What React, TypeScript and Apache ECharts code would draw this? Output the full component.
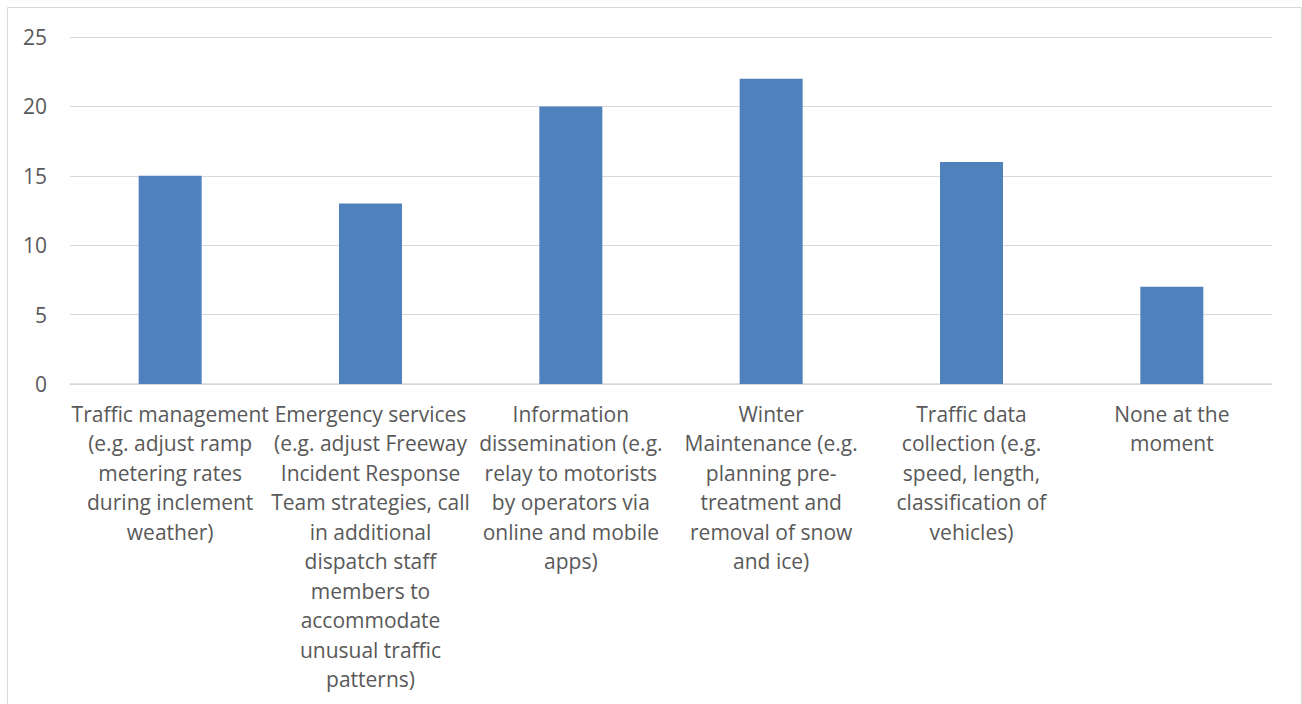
import React, { useEffect, useRef } from "react";
import * as echarts from "echarts";

const categories: string[] = [
  "Traffic management\n(e.g. adjust ramp\nmetering rates\nduring inclement\nweather)",
  "Emergency services\n(e.g. adjust Freeway\nIncident Response\nTeam strategies, call\nin additional\ndispatch staff\nmembers to\naccommodate\nunusual traffic\npatterns)",
  "Information\ndissemination (e.g.\nrelay to motorists\nby operators via\nonline and mobile\napps)",
  "Winter\nMaintenance (e.g.\nplanning pre-\ntreatment and\nremoval of snow\nand ice)",
  "Traffic data\ncollection (e.g.\nspeed, length,\nclassification of\nvehicles)",
  "None at the\nmoment",
];
const values: number[] = [15, 13, 20, 22, 16, 7];
const yTicks = { min: 0, max: 25, interval: 5 };

export default function App() {
  const ref = useRef<HTMLDivElement>(null);
  useEffect(() => {
    if (!ref.current) return;
    const chart = echarts.init(ref.current, null, { renderer: "svg" });
    const font = "'Open Sans', 'Noto Sans', sans-serif";
    chart.setOption({
      animation: false,
      backgroundColor: "#ffffff",
      graphic: [
        {
          type: "rect",
          shape: { x: 7.5, y: 7.5, width: 1294, height: 720 },
          style: { fill: "none", stroke: "#d9d9d9", lineWidth: 1 },
          silent: true,
        },
      ],
      grid: { left: 70, right: 30, top: 37, bottom: 320, containLabel: false },
      xAxis: {
        type: "category",
        data: categories,
        axisLine: { show: true, lineStyle: { color: "#d9d9d9", width: 1.5 } },
        axisTick: { show: false },
        axisLabel: {
          interval: 0,
          color: "#595959",
          fontFamily: font,
          fontSize: 21,
          lineHeight: 29.5,
          margin: 15,
          align: "center",
        },
      },
      yAxis: {
        type: "value",
        min: yTicks.min,
        max: yTicks.max,
        interval: yTicks.interval,
        axisLine: { show: false },
        axisTick: { show: false },
        splitLine: { lineStyle: { color: "#d9d9d9", width: 1 } },
        axisLabel: {
          color: "#595959",
          fontFamily: font,
          fontSize: 21,
          margin: 23,
        },
      },
      series: [
        {
          type: "bar",
          data: values,
          barWidth: 63,
          itemStyle: { color: "#4F81BD" },
        },
      ],
    });
    return () => chart.dispose();
  }, []);
  return (
    <div
      ref={ref}
      style={{ position: "absolute", left: 0, top: 0, width: 1302, height: 704 }}
    />
  );
}
